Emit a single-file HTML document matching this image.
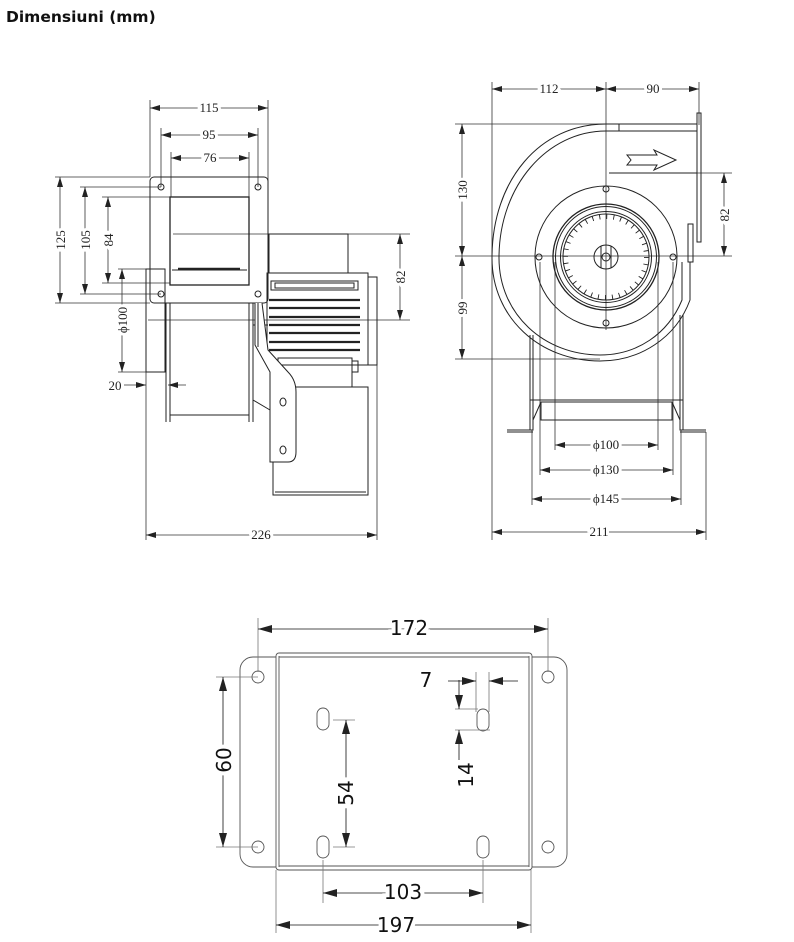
<!DOCTYPE html>
<html><head><meta charset="utf-8"><style>
html,body{margin:0;padding:0;background:#fff}
svg{display:block}
.t{font-family:"Liberation Serif",serif;font-size:13px;fill:#222;text-anchor:middle;paint-order:stroke;stroke:#fff;stroke-width:6px}
.s{font-family:"DejaVu Sans","Liberation Sans",sans-serif;font-size:20px;fill:#111;text-anchor:middle;paint-order:stroke;stroke:#fff;stroke-width:8px}
</style></head><body>
<svg width="794" height="942" viewBox="0 0 794 942" xmlns="http://www.w3.org/2000/svg">
<defs>
<marker id="a" viewBox="0 0 10 6" refX="10" refY="3" markerWidth="10" markerHeight="6" markerUnits="userSpaceOnUse" orient="auto-start-reverse"><path d="M0,0L10,3L0,6z" fill="#222"/></marker>
<marker id="b" viewBox="0 0 14 8" refX="14" refY="4" markerWidth="14" markerHeight="8" markerUnits="userSpaceOnUse" orient="auto-start-reverse"><path d="M0,0L14,4L0,8z" fill="#222"/></marker>
</defs>
<text x="6" y="22" font-family="'DejaVu Sans','Liberation Sans',sans-serif" font-weight="bold" font-size="15.5" fill="#111">Dimensiuni (mm)</text>

<!-- ============ LEFT VIEW ============ -->
<g stroke="#333" stroke-width="0.8" fill="none">
 <line x1="150" y1="100" x2="150" y2="177"/><line x1="268" y1="100" x2="268" y2="234"/>
 <line x1="161" y1="128" x2="161" y2="187"/><line x1="258" y1="128" x2="258" y2="187"/>
 <line x1="171" y1="152" x2="171" y2="197"/><line x1="249" y1="152" x2="249" y2="197"/>
 <line x1="55" y1="177" x2="150" y2="177"/><line x1="55" y1="303" x2="150" y2="303"/>
 <line x1="80" y1="187" x2="161" y2="187"/><line x1="80" y1="294" x2="161" y2="294"/>
 <line x1="102" y1="197" x2="170" y2="197"/><line x1="102" y1="283" x2="170" y2="283"/>
 <line x1="118" y1="269" x2="146" y2="269"/><line x1="118" y1="372" x2="146" y2="372"/>
 <line x1="173" y1="234" x2="410" y2="234"/><line x1="148" y1="320" x2="410" y2="320"/>
 <line x1="146" y1="372" x2="146" y2="540"/><line x1="377" y1="365" x2="377" y2="540"/>
 <line x1="150" y1="108" x2="268" y2="108" marker-start="url(#a)" marker-end="url(#a)"/>
 <line x1="161" y1="135" x2="258" y2="135" marker-start="url(#a)" marker-end="url(#a)"/>
 <line x1="171" y1="158" x2="249" y2="158" marker-start="url(#a)" marker-end="url(#a)"/>
 <line x1="60" y1="177" x2="60" y2="303" marker-start="url(#a)" marker-end="url(#a)"/>
 <line x1="85" y1="187" x2="85" y2="294" marker-start="url(#a)" marker-end="url(#a)"/>
 <line x1="108" y1="197" x2="108" y2="283" marker-start="url(#a)" marker-end="url(#a)"/>
 <line x1="122" y1="269" x2="122" y2="372" marker-start="url(#a)" marker-end="url(#a)"/>
 <line x1="400" y1="234" x2="400" y2="320" marker-start="url(#a)" marker-end="url(#a)"/>
 <line x1="146" y1="535" x2="377" y2="535" marker-start="url(#a)" marker-end="url(#a)"/>
 <line x1="124" y1="385" x2="146" y2="385" marker-end="url(#a)"/>
 <line x1="186" y1="385" x2="168" y2="385" marker-end="url(#a)"/>
</g>
<g stroke="#222" stroke-width="1" fill="none">
 <rect x="150" y="177" width="118" height="126" rx="4"/>
 <circle cx="161" cy="187" r="3"/><circle cx="258" cy="187" r="3"/>
 <circle cx="161" cy="294" r="3"/><circle cx="258" cy="294" r="3"/>
 <rect x="170" y="197" width="79" height="88" stroke-width="1.3"/>
 <line x1="172" y1="270" x2="247" y2="270"/>
 <line x1="178" y1="269" x2="240" y2="269" stroke-width="2.5"/>
 <rect x="146" y="269" width="19" height="103"/>
 <line x1="166" y1="303" x2="166" y2="422"/><line x1="170" y1="303" x2="170" y2="422"/>
 <line x1="249" y1="303" x2="249" y2="422"/><line x1="253" y1="303" x2="253" y2="422"/>
 <line x1="170" y1="415" x2="249" y2="415"/>
 <line x1="253" y1="325" x2="268" y2="325"/>
 <rect x="269" y="234" width="79" height="39"/>
 <rect x="267" y="273" width="101" height="92"/>
 <rect x="368" y="277" width="9" height="88"/>
 <rect x="271" y="281" width="87" height="9"/>
 <rect x="275" y="283" width="79" height="5"/>
 <g stroke-width="2.2"><line x1="269" y1="300" x2="360" y2="300"/><line x1="269" y1="308" x2="360" y2="308"/><line x1="269" y1="317" x2="360" y2="317"/><line x1="269" y1="325" x2="360" y2="325"/><line x1="269" y1="333" x2="360" y2="333"/><line x1="269" y1="342" x2="360" y2="342"/><line x1="269" y1="350" x2="360" y2="350"/></g>
 <rect x="278" y="358" width="74" height="29"/>
 <rect x="352" y="361" width="6" height="11"/>
 <rect x="273" y="387" width="95" height="108" fill="#fff"/>
 <line x1="275" y1="492" x2="366" y2="492"/>
 <path d="M255,303 L255,345 L270,372 L270,462 L288,462 Q296,462 296,452 L296,392 Q296,380 288,372 L268,350 L262,303" fill="#fff"/>
 <line x1="258" y1="303" x2="258" y2="347"/>
 <line x1="253" y1="400" x2="270" y2="410"/>
 <ellipse cx="283" cy="402" rx="3" ry="4"/><ellipse cx="283" cy="450" rx="3" ry="4"/>
</g>
<text class="t" x="209" y="112">115</text>
<text class="t" x="209" y="139">95</text>
<text class="t" x="210" y="162" font-size="11">76</text>
<text class="t" transform="translate(65,240) rotate(-90)">125</text>
<text class="t" transform="translate(90,240) rotate(-90)">105</text>
<text class="t" transform="translate(113,240) rotate(-90)">84</text>
<text class="t" transform="translate(127,320) rotate(-90)">ϕ100</text>
<text class="t" transform="translate(405,277) rotate(-90)">82</text>
<text class="t" x="115" y="390" style="stroke-width:0">20</text>
<text class="t" x="261" y="539">226</text>

<!-- ============ RIGHT VIEW ============ -->
<g stroke="#333" stroke-width="0.8" fill="none">
 <line x1="492" y1="82" x2="492" y2="540"/><line x1="699" y1="82" x2="699" y2="125"/>
 <line x1="606" y1="82" x2="606" y2="330"/>
 <line x1="706" y1="432" x2="706" y2="540"/>
 <line x1="455" y1="124" x2="606" y2="124"/><line x1="455" y1="359" x2="600" y2="359"/>
 <line x1="455" y1="256" x2="732" y2="256"/><line x1="609" y1="173" x2="732" y2="173"/>
 <line x1="555" y1="262" x2="555" y2="450"/><line x1="658" y1="262" x2="658" y2="450"/>
 <line x1="540" y1="262" x2="540" y2="475"/><line x1="673" y1="262" x2="673" y2="475"/>
 <line x1="532" y1="430" x2="532" y2="505"/><line x1="681" y1="430" x2="681" y2="505"/>
 <line x1="492" y1="89" x2="606" y2="89" marker-start="url(#a)" marker-end="url(#a)"/>
 <line x1="606" y1="89" x2="699" y2="89" marker-start="url(#a)" marker-end="url(#a)"/>
 <line x1="462" y1="124" x2="462" y2="256" marker-start="url(#a)" marker-end="url(#a)"/>
 <line x1="462" y1="256" x2="462" y2="359" marker-start="url(#a)" marker-end="url(#a)"/>
 <line x1="724" y1="173" x2="724" y2="256" marker-start="url(#a)" marker-end="url(#a)"/>
 <line x1="555" y1="445" x2="658" y2="445" marker-start="url(#a)" marker-end="url(#a)"/>
 <line x1="540" y1="470" x2="673" y2="470" marker-start="url(#a)" marker-end="url(#a)"/>
 <line x1="532" y1="499" x2="681" y2="499" marker-start="url(#a)" marker-end="url(#a)"/>
 <line x1="492" y1="532" x2="706" y2="532" marker-start="url(#a)" marker-end="url(#a)"/>
</g>
<g stroke="#222" stroke-width="1" fill="none">
 <line x1="530" y1="335" x2="530" y2="430"/><line x1="533" y1="335" x2="533" y2="430"/>
 <line x1="683" y1="315" x2="683" y2="430"/><line x1="680" y1="315" x2="680" y2="430"/>
 <line x1="530" y1="400" x2="683" y2="400"/>
 <rect x="541" y="402" width="131" height="18"/>
 <line x1="533" y1="420" x2="541" y2="402"/><line x1="680" y1="420" x2="672" y2="402"/>
 <path d="M507,430 L533,430 L533,420 M680,420 L680,430 L706,430"/>
 <line x1="507" y1="432" x2="533" y2="432"/><line x1="680" y1="432" x2="706" y2="432"/>
 <path d="M697,124 L606,124 C540,124 492,180 492,258 C492,318 540,361 600,361 C640,361 676,338 690,300 L690,262"/>
 <path d="M697,131 L606,131 C548,131 499,185 499,258 C499,314 544,355 600,355 C637,355 668,334 682,300 L682,262"/>
 <line x1="619" y1="124" x2="619" y2="131"/>
 <rect x="688" y="224" width="5" height="38"/>
 <rect x="697" y="113" width="4" height="129"/>
 <line x1="609" y1="173" x2="697" y2="173"/>
 <path d="M627,155 L657,155 L654,150 L676,160 L654,170 L657,165 L627,165 L631,160 Z"/>
 <circle cx="606" cy="257" r="71"/>
 <circle cx="606" cy="189" r="3"/><circle cx="539" cy="257" r="3"/><circle cx="673" cy="257" r="3"/><circle cx="606" cy="323" r="3"/>
 <circle cx="606" cy="257" r="53" stroke-width="1.3"/>
 <circle cx="606" cy="257" r="50.5"/>
 <circle cx="606" cy="257" r="45.5"/>
 <circle cx="606" cy="257" r="43"/>
 <circle cx="606" cy="257" r="40.5" stroke-width="5" stroke-dasharray="0.9 6.17"/>
 <circle cx="606" cy="257" r="12"/>
 <circle cx="606" cy="257" r="4"/>
 <line x1="601" y1="246" x2="601" y2="268"/><line x1="611" y1="246" x2="611" y2="268"/>
</g>
<text class="t" x="549" y="93">112</text>
<text class="t" x="653" y="93">90</text>
<text class="t" transform="translate(467,190) rotate(-90)">130</text>
<text class="t" transform="translate(467,308) rotate(-90)">99</text>
<text class="t" transform="translate(729,215) rotate(-90)">82</text>
<text class="t" x="606" y="449">ϕ100</text>
<text class="t" x="606" y="474">ϕ130</text>
<text class="t" x="606" y="503">ϕ145</text>
<text class="t" x="599" y="536">211</text>

<!-- ============ BOTTOM VIEW ============ -->
<g stroke="#555" stroke-width="0.9" fill="none">
 <rect x="240" y="657" width="327" height="210" rx="13"/>
 <rect x="276" y="653" width="256" height="217" rx="3" fill="#fff"/>
 <line x1="279" y1="656" x2="279" y2="867"/><line x1="529" y1="656" x2="529" y2="867"/>
 <line x1="279" y1="657" x2="529" y2="657"/><line x1="279" y1="866" x2="529" y2="866"/>
 <circle cx="258" cy="677" r="6"/><circle cx="548" cy="677" r="6"/>
 <circle cx="258" cy="847" r="6"/><circle cx="548" cy="847" r="6"/>
 <rect x="317" y="708" width="12" height="22" rx="6"/>
 <rect x="317" y="836" width="12" height="22" rx="6"/>
 <rect x="477" y="836" width="12" height="22" rx="6"/>
 <rect x="477" y="709" width="12" height="22" rx="6"/>
</g>
<g stroke="#777" stroke-width="0.8" fill="none">
 <line x1="258" y1="618" x2="258" y2="672"/><line x1="548" y1="618" x2="548" y2="672"/>
 <line x1="216" y1="677" x2="258" y2="677"/><line x1="216" y1="847" x2="258" y2="847"/>
 <line x1="333" y1="720" x2="355" y2="720"/><line x1="333" y1="847" x2="355" y2="847"/>
 <line x1="323" y1="860" x2="323" y2="903"/><line x1="483" y1="860" x2="483" y2="903"/>
 <line x1="276" y1="870" x2="276" y2="933"/><line x1="531" y1="870" x2="531" y2="933"/>
 <line x1="476" y1="672" x2="476" y2="712"/><line x1="489" y1="672" x2="489" y2="712"/>
 <line x1="455" y1="709" x2="478" y2="709"/><line x1="455" y1="730" x2="490" y2="730"/>
</g>
<g stroke="#111" stroke-width="0.8" fill="none">
 <line x1="258" y1="629" x2="548" y2="629" marker-start="url(#b)" marker-end="url(#b)"/>
 <line x1="223" y1="677" x2="223" y2="847" marker-start="url(#b)" marker-end="url(#b)"/>
 <line x1="346" y1="720" x2="346" y2="847" marker-start="url(#b)" marker-end="url(#b)"/>
 <line x1="323" y1="893" x2="483" y2="893" marker-start="url(#b)" marker-end="url(#b)"/>
 <line x1="276" y1="925" x2="531" y2="925" marker-start="url(#b)" marker-end="url(#b)"/>
 <line x1="448" y1="681" x2="476" y2="681" marker-end="url(#b)"/>
 <line x1="518" y1="681" x2="489" y2="681" marker-end="url(#b)"/>
 <line x1="459" y1="680" x2="459" y2="709" marker-end="url(#b)"/>
 <line x1="459" y1="760" x2="459" y2="730" marker-end="url(#b)"/>
</g>
<text class="s" x="409" y="635">172</text>
<text class="s" transform="translate(231,760) rotate(-90)">60</text>
<text class="s" transform="translate(353,793) rotate(-90)">54</text>
<text class="s" transform="translate(473,775) rotate(-90)">14</text>
<text class="s" x="426" y="687" style="stroke-width:0">7</text>
<text class="s" x="403" y="899">103</text>
<text class="s" x="396" y="932">197</text>
</svg>
</body></html>
